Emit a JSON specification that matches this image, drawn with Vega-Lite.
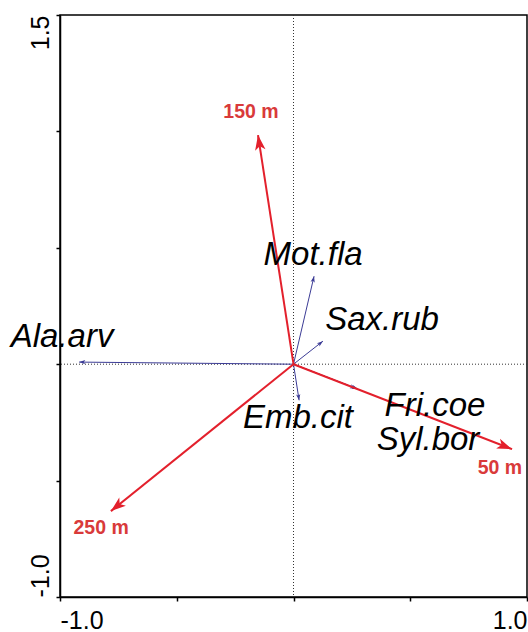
{
  "$schema": "https://vega.github.io/schema/vega-lite/v6.json",
  "width": 467,
  "height": 582,
  "autosize": {"type": "none"},
  "padding": {"left": 60, "top": 15, "right": 1, "bottom": 35},
  "background": "white",
  "config": {"view": {"stroke": "black", "strokeWidth": 1.5}, "font": "Liberation Sans"},
  "data": {"values": [{"o": 0}]},
  "datasets": {
    "env": [
      {"name": "150 m", "x": -0.152, "y": 0.984, "lx": -0.182, "ly": 1.083},
      {"name": "50 m", "x": 0.936, "y": -0.365, "lx": 0.884, "ly": -0.447},
      {"name": "250 m", "x": -0.782, "y": -0.631, "lx": -0.824, "ly": -0.704}
    ],
    "spe": [
      {"name": "Mot.fla", "x": 0.088, "y": 0.378, "lx": 0.084, "ly": 0.468},
      {"name": "Sax.rub", "x": 0.126, "y": 0.099, "lx": 0.379, "ly": 0.189},
      {"name": "Ala.arv", "x": -0.918, "y": 0.009, "lx": -0.991, "ly": 0.116},
      {"name": "Emb.cit", "x": 0.024, "y": -0.155, "lx": 0.019, "ly": -0.232},
      {"name": "Fri.coe", "x": 0.276, "y": -0.107, "lx": 0.606, "ly": -0.18},
      {"name": "Syl.bor", "x": 0.268, "y": -0.104, "lx": 0.576, "ly": -0.326}
    ]
  },
  "layer": [
    {
      "mark": {"type": "rule", "color": "#333333", "strokeWidth": 1, "strokeDash": [1, 2]},
      "encoding": {
        "x": {
          "field": "o",
          "type": "quantitative",
          "scale": {"domain": [-1, 1], "nice": false, "zero": false},
          "axis": {
            "title": null,
            "grid": false,
            "values": [-1, -0.5, 0, 0.5, 1],
            "labelExpr": "datum.value == -1 ? '-1.0' : (datum.value == 1 ? '1.0' : '')",
            "labelFlush": true,
            "labelOverlap": false,
            "labelFontSize": 25,
            "labelColor": "black",
            "labelPadding": 7,
            "tickColor": "black",
            "tickSize": 4,
            "tickWidth": 1.5,
            "domainColor": "black",
            "domainWidth": 1.5
          }
        }
      }
    },
    {
      "mark": {"type": "rule", "color": "#333333", "strokeWidth": 1, "strokeDash": [1, 2]},
      "encoding": {
        "y": {
          "field": "o",
          "type": "quantitative",
          "scale": {"domain": [-1, 1.5], "nice": false, "zero": false},
          "axis": {
            "title": null,
            "grid": false,
            "values": [-1, -0.5, 0, 0.5, 1, 1.5],
            "labelExpr": "datum.value == 1.5 ? '1.5' : (datum.value == -1 ? '-1.0' : '')",
            "labelAngle": -90,
            "labelAlign": {"condition": {"test": "datum.value > 0", "value": "right"}, "value": "left"},
            "labelBaseline": "alphabetic",
            "labelFlush": false,
            "labelOverlap": false,
            "labelBound": false,
            "labelFontSize": 25,
            "labelColor": "black",
            "labelPadding": 8,
            "tickColor": "black",
            "tickSize": 4,
            "tickWidth": 1.5,
            "domainColor": "black",
            "domainWidth": 1.5
          }
        }
      }
    },
    {
      "data": {"name": "spe"},
      "mark": {"type": "rule", "color": "#3c3c96", "strokeWidth": 1},
      "encoding": {
        "x": {"field": "x", "type": "quantitative"},
        "y": {"field": "y", "type": "quantitative"},
        "x2": {"datum": 0},
        "y2": {"datum": 0}
      }
    },
    {
      "data": {"name": "spe"},
      "transform": [{"calculate": "atan2(datum.x, datum.y) * 180 / PI", "as": "ang"}],
      "mark": {"type": "point", "shape": "M0,0L-0.35,1L0,0.75L0.35,1Z", "filled": true, "size": 150, "color": "#3c3c96", "opacity": 1},
      "encoding": {
        "x": {"field": "x", "type": "quantitative"},
        "y": {"field": "y", "type": "quantitative"},
        "angle": {"field": "ang", "type": "quantitative", "scale": null}
      }
    },
    {
      "data": {"name": "env"},
      "mark": {"type": "rule", "color": "#e3202c", "strokeWidth": 2},
      "encoding": {
        "x": {"field": "x", "type": "quantitative"},
        "y": {"field": "y", "type": "quantitative"},
        "x2": {"datum": 0},
        "y2": {"datum": 0}
      }
    },
    {
      "data": {"name": "env"},
      "transform": [{"calculate": "atan2(datum.x, datum.y) * 180 / PI", "as": "ang"}],
      "mark": {"type": "point", "shape": "M0,0L-0.35,1L0,0.75L0.35,1Z", "filled": true, "size": 900, "color": "#e3202c", "opacity": 1},
      "encoding": {
        "x": {"field": "x", "type": "quantitative"},
        "y": {"field": "y", "type": "quantitative"},
        "angle": {"field": "ang", "type": "quantitative", "scale": null}
      }
    },
    {
      "data": {"name": "spe"},
      "mark": {"type": "text", "font": "Liberation Sans", "fontStyle": "italic", "fontSize": 33, "color": "black", "align": "center", "baseline": "middle"},
      "encoding": {
        "x": {"field": "lx", "type": "quantitative"},
        "y": {"field": "ly", "type": "quantitative"},
        "text": {"field": "name"}
      }
    },
    {
      "data": {"name": "env"},
      "mark": {"type": "text", "font": "Liberation Sans", "fontWeight": "bold", "fontSize": 19.5, "color": "#d93a3a", "align": "center", "baseline": "middle"},
      "encoding": {
        "x": {"field": "lx", "type": "quantitative"},
        "y": {"field": "ly", "type": "quantitative"},
        "text": {"field": "name"}
      }
    }
  ]
}
